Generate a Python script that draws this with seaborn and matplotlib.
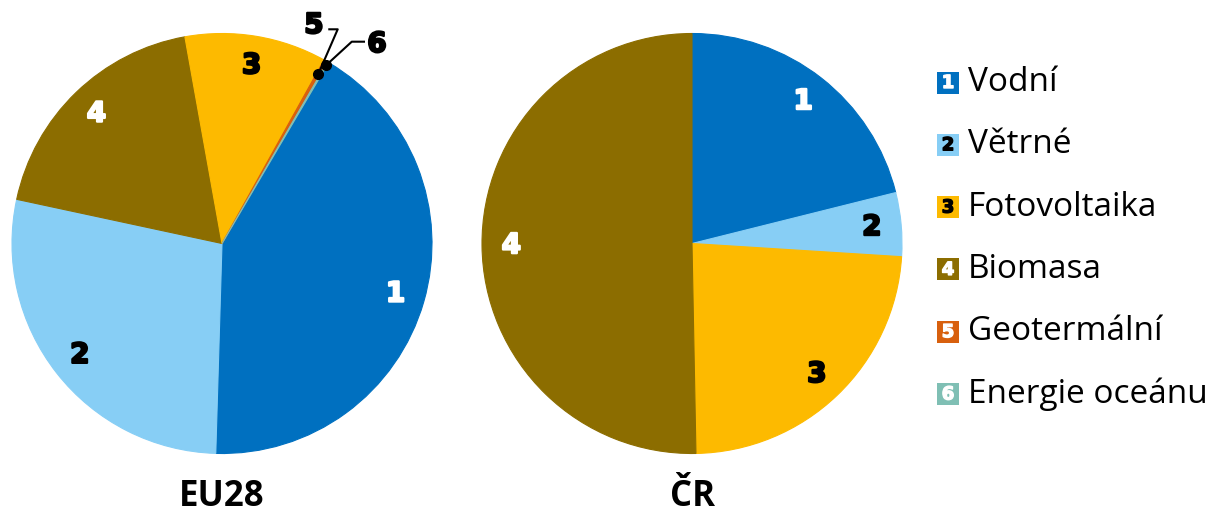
import numpy as np
import matplotlib
matplotlib.use("Agg")
import matplotlib.pyplot as plt
import matplotlib.patheffects as pe
import seaborn as sns
from matplotlib.patches import Rectangle

# ---------------- data ----------------
categories = ["Vodní", "Větrné", "Fotovoltaika", "Biomasa", "Geotermální", "Energie oceánu"]
numbers = ["1", "2", "3", "4", "5", "6"]
eu28_values = [42.0, 27.9, 10.9, 18.8, 0.3, 0.1]
cr_values = [21.1, 4.9, 23.7, 50.3, 0.0, 0.0]
titles = ["EU28", "ČR"]

# ---------------- style ----------------
sns.set_theme(style="white")
plt.rcParams["font.family"] = ["Open Sans", "DejaVu Sans"]

colors = ["#0070C0", "#87CEF5", "#FDBA00", "#8C6D00", "#D8600E", "#7FBFB4"]
label_colors = ["white", "black", "black", "white", "white", "white"]
eu28_order = [0, 1, 3, 2, 4, 5]
cr_order = [0, 1, 2, 3]

W, H = 1221, 515
fig = plt.figure(figsize=(W / 100, H / 100), dpi=100)
R = 210


def heavy(color, w=1.6):
    return [pe.withStroke(linewidth=w, foreground=color)]


def axes_at(cx, cy):
    return fig.add_axes([(cx - R) / W, (H - cy - R) / H, 2 * R / W, 2 * R / H])


def draw_pie(ax, values, order, start, inside):
    vals = [values[i] for i in order]
    cols = [colors[i] for i in order]
    wedges, _ = ax.pie(vals, colors=cols, startangle=start, counterclock=False,
                       radius=1, wedgeprops=dict(linewidth=0))
    for w, c in zip(wedges, cols):
        w.set_edgecolor(c)
        w.set_linewidth(0.8)
    ax.set_xlim(-1, 1)
    ax.set_ylim(-1, 1)
    ax.set_aspect("equal")
    ax.axis("off")
    mids = {}
    for w, i in zip(wedges, order):
        mid = np.deg2rad((w.theta1 + w.theta2) / 2)
        mids[i] = mid
        if i in inside:
            ax.text(0.86 * np.cos(mid), 0.86 * np.sin(mid), numbers[i],
                    ha="center", va="center", fontsize=20, fontweight="bold",
                    family="DejaVu Sans", color=label_colors[i],
                    path_effects=heavy(label_colors[i]))
    return mids


ax_eu = axes_at(222, 243.5)
mids_eu = draw_pie(ax_eu, eu28_values, eu28_order, 59.5, [0, 1, 2, 3])

ax_cr = axes_at(692, 243.5)
draw_pie(ax_cr, cr_values, cr_order, 90, [0, 1, 2, 3])

# leader lines for the tiny EU slices
for i, r, knee, end, tpos in [
    (4, 0.93, (0.551, 1.020), (0.506, 1.020), (0.438, 1.040)),
    (5, 0.985, (0.618, 0.961), (0.681, 0.961), (0.738, 0.950)),
]:
    m = mids_eu[i]
    dx, dy = r * np.cos(m), r * np.sin(m)
    ax_eu.plot([dx, knee[0], end[0]], [dy, knee[1], end[1]], color="black",
               lw=1.5, clip_on=False, solid_capstyle="butt")
    ax_eu.plot([dx], [dy], "o", color="black", ms=7, clip_on=False)
    ax_eu.text(tpos[0], tpos[1], numbers[i], ha="center", va="center",
               fontsize=20, fontweight="bold", family="DejaVu Sans",
               color="black", clip_on=False, path_effects=heavy("black"))

# titles
for t, cx in zip(titles, [222, 692]):
    fig.text(cx / W, 1 - 497 / H, t, ha="center", va="center",
             fontsize=25, fontweight="bold", color="black")

# legend (drawn in pixel coordinates)
lax = fig.add_axes([0, 0, 1, 1])
lax.set_xlim(0, W)
lax.set_ylim(H, 0)
lax.axis("off")
lax.patch.set_alpha(0)
row_y0, row_dy = 82.5, 62.3
for k, (cat, col) in enumerate(zip(categories, colors)):
    y = row_y0 + k * row_dy
    lax.add_patch(Rectangle((937, y - 11), 22, 22, facecolor=col, edgecolor="none"))
    lax.text(948, y + 0.5, numbers[k], ha="center", va="center", fontsize=13,
             fontweight="bold", family="DejaVu Sans", color=label_colors[k],
             path_effects=heavy(label_colors[k], 1.0))
    lax.text(968, y, cat, ha="left", va="center", fontsize=24, color="black")

fig.savefig("out.png", dpi=100)
